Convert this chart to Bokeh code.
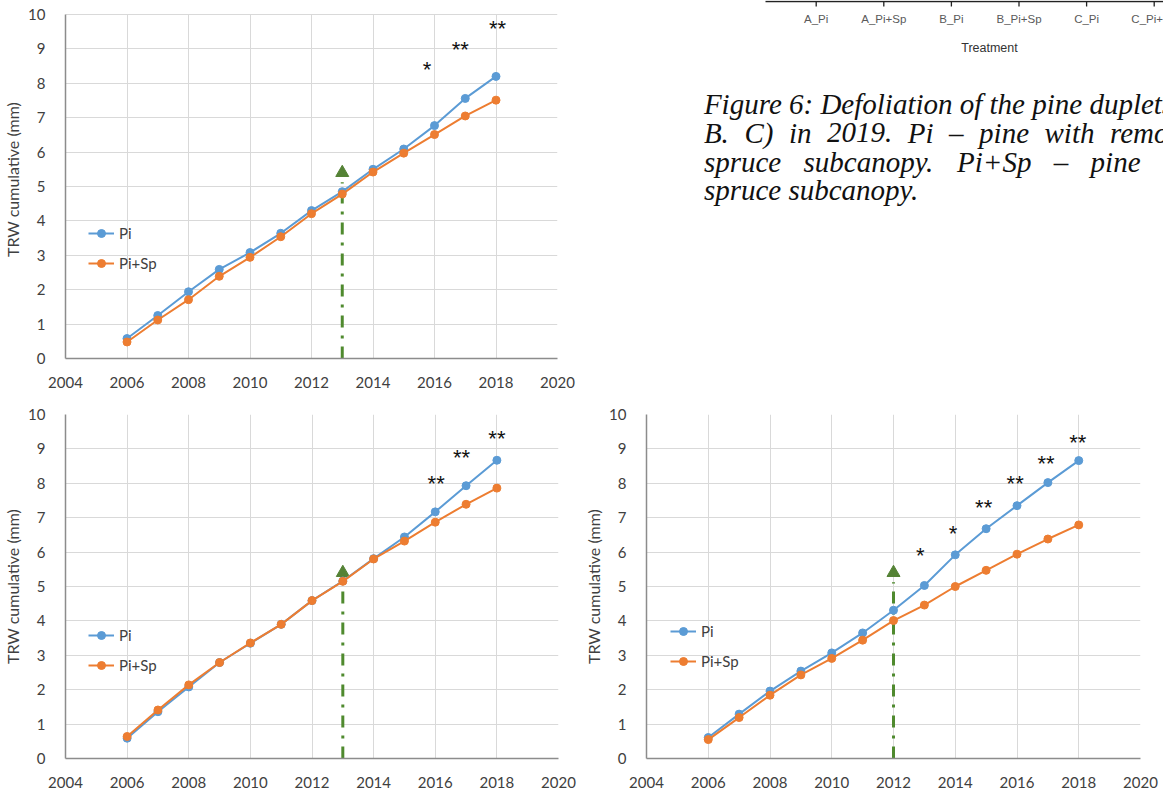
from bokeh.plotting import figure
from bokeh.layouts import column, row
from bokeh.models import Range1d, FixedTicker, Legend, LegendItem
from bokeh.core.properties import value
from bokeh.embed import file_html
from bokeh.resources import INLINE

# ---------------- data ----------------
years = [2006, 2007, 2008, 2009, 2010, 2011, 2012, 2013, 2014, 2015, 2016, 2017, 2018]

pi_a = [0.58, 1.25, 1.94, 2.59, 3.08, 3.64, 4.30, 4.85, 5.50, 6.09, 6.77, 7.56, 8.20]
sp_a = [0.48, 1.12, 1.71, 2.39, 2.94, 3.54, 4.21, 4.78, 5.42, 5.97, 6.51, 7.05, 7.51]

pi_b = [0.59, 1.36, 2.08, 2.79, 3.35, 3.90, 4.59, 5.16, 5.81, 6.44, 7.17, 7.93, 8.67]
sp_b = [0.64, 1.41, 2.14, 2.79, 3.36, 3.90, 4.59, 5.15, 5.80, 6.32, 6.87, 7.39, 7.86]

pi_c = [0.61, 1.29, 1.96, 2.54, 3.07, 3.65, 4.31, 5.03, 5.92, 6.68, 7.35, 8.02, 8.66]
sp_c = [0.55, 1.19, 1.84, 2.43, 2.91, 3.44, 4.01, 4.46, 5.00, 5.47, 5.94, 6.38, 6.79]

event_year_a = 2013
event_year_b = 2013
event_year_c = 2012
event_level = 5.4
event_line_top = 5.12

star_x_a = [2015.76, 2016.84, 2018.05]
star_y_a = [8.58, 9.16, 9.76]
star_t_a = ["*", "**", "**"]

star_x_b = [2016.03, 2016.85, 2018.0]
star_y_b = [8.16, 8.92, 9.49]
star_t_b = ["**", "**", "**"]

star_x_c = [2012.87, 2013.93, 2014.92, 2015.94, 2016.94, 2017.97]
star_y_c = [6.07, 6.71, 7.47, 8.16, 8.75, 9.35]
star_t_c = ["*", "*", "**", "**", "**", "**"]

x_ticks = [2004, 2006, 2008, 2010, 2012, 2014, 2016, 2018, 2020]
y_ticks = [0, 1, 2, 3, 4, 5, 6, 7, 8, 9, 10]

series_labels = ["Pi", "Pi+Sp"]
treatments = ["A_Pi", "A_Pi+Sp", "B_Pi", "B_Pi+Sp", "C_Pi", "C_Pi+Sp"]
treatment_axis_title = "Treatment"

# caption lines (justified text, cropped at the right edge as in the source)
caption_line1 = "Figure 6: Defoliation of the pine duplets (A."
caption_line2 = ["B.", "C)", "in", "2019.", "Pi", "\u2013", "pine", "with", "removed"]
caption_line3 = ["spruce", "subcanopy.", "Pi+Sp", "\u2013", "pine"]
caption_line4 = "spruce subcanopy."

# ---------------- style ----------------
BLUE = "#5B9BD5"
ORANGE = "#ED7D31"
GREEN_MARK = "#548235"
GREEN_LINE = "#4F8A2E"
TXT = "#404040"
FONT = "Lato"


def make_chart(w, h, bl, br, bt, bb, y_top, pi, sp, ev, sx, sy, st, leg_xy):
    p = figure(width=w, height=h, x_range=Range1d(2004, 2020), y_range=Range1d(0, y_top),
               output_backend="svg", toolbar_location=None,
               min_border_left=bl, min_border_right=br, min_border_top=bt, min_border_bottom=bb)
    p.outline_line_color = None
    p.xaxis.ticker = FixedTicker(ticks=x_ticks)
    p.yaxis.ticker = FixedTicker(ticks=y_ticks)
    p.yaxis.bounds = (0, 10)
    for ax in (p.xaxis[0], p.yaxis[0]):
        ax.major_tick_line_color = None
        ax.minor_tick_line_color = None
        ax.axis_line_color = "#8c8c8c"
        ax.axis_line_width = 1.5
        ax.major_label_text_font = FONT
        ax.major_label_text_font_size = "15px"
        ax.major_label_text_color = TXT
    p.xaxis.major_label_standoff = 12
    p.yaxis.major_label_standoff = 14
    p.yaxis.axis_label = "TRW cumulative (mm)"
    p.yaxis.axis_label_text_font = FONT
    p.yaxis.axis_label_text_font_style = "normal"
    p.yaxis.axis_label_text_font_size = "16px"
    p.yaxis.axis_label_text_color = TXT
    p.yaxis.axis_label_standoff = 3
    p.grid.grid_line_color = "#d9d9d9"
    p.grid.grid_line_width = 1
    try:
        p.xgrid.cross_bounds = (0, 10)
    except Exception:
        pass

    # event marker: dash-dot line and triangle
    p.segment(x0=[ev], y0=[0], x1=[ev], y1=[event_line_top], line_color=GREEN_LINE,
              line_width=3, line_dash="12 8 3 8")
    p.scatter([ev], [event_level], marker="triangle", size=13,
              fill_color=GREEN_MARK, line_color=GREEN_MARK)

    l1 = p.line(years, pi, line_color=BLUE, line_width=2)
    c1 = p.scatter(years, pi, size=8, fill_color=BLUE, line_color=BLUE)
    l2 = p.line(years, sp, line_color=ORANGE, line_width=2)
    c2 = p.scatter(years, sp, size=8, fill_color=ORANGE, line_color=ORANGE)

    p.text(x=sx, y=sy, text=st, text_align="center", text_baseline="middle",
           text_font=value("Liberation Sans"), text_font_size="22px",
           text_color="#111111", y_offset=6)

    legend = Legend(items=[LegendItem(label=series_labels[0], renderers=[l1, c1]),
                           LegendItem(label=series_labels[1], renderers=[l2, c2])],
                    location=leg_xy, orientation="vertical",
                    border_line_color=None, background_fill_alpha=0,
                    glyph_width=26, glyph_height=20, label_height=20, spacing=10,
                    padding=0, margin=0, label_standoff=5,
                    label_text_font=FONT, label_text_font_size="15px",
                    label_text_color=TXT)
    p.add_layout(legend)
    return p


# top-left chart: frame reaches the top edge, value 10 sits 14 px below it
f1 = make_chart(580, 390, 63, 23, 0, 32, 10 + 14 / 34.4, pi_a, sp_a, event_year_a,
                star_x_a, star_y_a, star_t_a, (23, 85))
f2 = make_chart(580, 402, 64, 22, 24, 34, 10, pi_b, sp_b, event_year_b,
                star_x_b, star_y_b, star_t_b, (23, 83))
f3 = make_chart(583, 402, 66, 23, 24, 34, 10, pi_c, sp_c, event_year_c,
                star_x_c, star_y_c, star_t_c, (24, 87))

# ---------------- top-right: cropped bar-chart axis and caption ----------------
cat_px = 67.6          # pixels per treatment category
axis_left_px = 765     # where the cropped axis line begins on the page
cat_start = 0.25 - (axis_left_px - 580) / cat_px
cat_end = 0.25 + (1163 - axis_left_px) / cat_px

tr = figure(width=583, height=390, x_range=Range1d(580, 1163), y_range=Range1d(358, 0),
            output_backend="svg", toolbar_location=None,
            min_border_left=0, min_border_right=0, min_border_top=0, min_border_bottom=32)
tr.extra_x_ranges = {"cat": Range1d(cat_start, cat_end)}
tr.outline_line_color = None
tr.axis.visible = False
tr.grid.visible = False

tick_pos = [i + 1 for i in range(len(treatments))]
tr.segment(x0=[0.25], x1=[cat_end], y0=[1], y1=[1], x_range_name="cat",
           line_color="#222222", line_width=1.3)
tr.segment(x0=tick_pos, x1=tick_pos, y0=[1] * len(tick_pos), y1=[6] * len(tick_pos),
           x_range_name="cat", line_color="#222222", line_width=1.3)
tr.text(x=tick_pos, y=[18.5] * len(tick_pos), text=treatments, x_range_name="cat",
        text_align="center", text_baseline="middle", text_font=value("Liberation Sans"),
        text_font_size="11.5px", text_color="#5a5a5a")
tr.text(x=[0.25 + (989 - axis_left_px) / cat_px], y=[47.7], text=[treatment_axis_title],
        x_range_name="cat", text_align="center", text_baseline="middle",
        text_font=value("Liberation Sans"), text_font_size="12.5px", text_color="#333333")

cap_style = dict(text_align="left", text_baseline="alphabetic",
                 text_font=value("Liberation Serif"), text_font_style="italic",
                 text_font_size="29px", text_color="#111111")
line2_x = [703.4, 743.9, 788.4, 826.5, 907.3, 948.6, 978.6, 1044.0, 1109.5]
line3_x = [703.4, 803.0, 956.6, 1053.3, 1090.1]
tr.text(x=[703.4], y=[103], text=[caption_line1], **cap_style)
tr.text(x=line2_x, y=[132] * len(line2_x), text=caption_line2, **cap_style)
tr.text(x=line3_x, y=[161] * len(line3_x), text=caption_line3, **cap_style)
tr.text(x=[703.4], y=[189], text=[caption_line4], **cap_style)

layout = column(row(f1, tr), row(f2, f3))

with open("out.html", "w") as fh:
    fh.write(file_html(layout, INLINE))
